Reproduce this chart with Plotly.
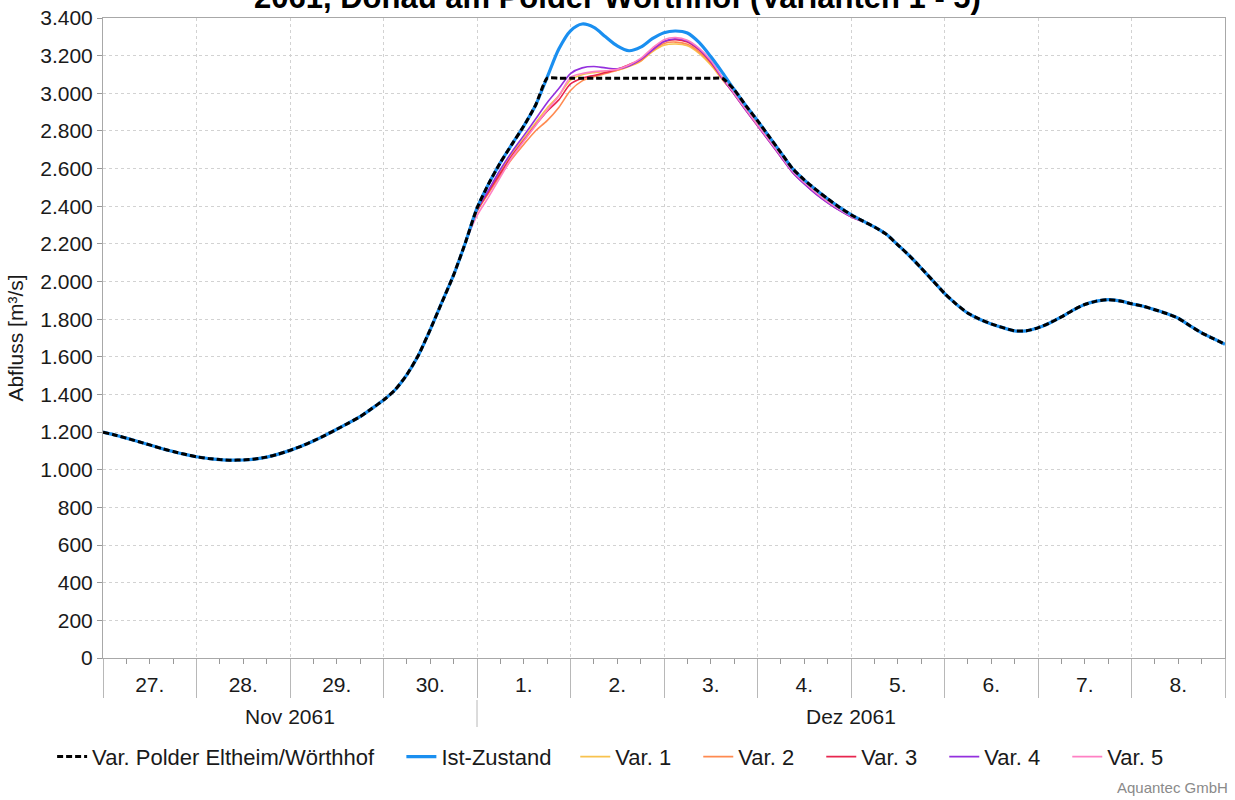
import datetime as dt
import plotly.graph_objects as go

# Zeitachse: Stunden ab 27.11.2061 00:00 (3-stündlich)
beginn = dt.datetime(2061, 11, 27)
stunden = list(range(0, 289, 3))

abfluss_ist = [
    1200, 1185, 1168, 1150, 1132, 1113, 1097, 1082, 1069, 1060, 1054, 1051, 1052,
    1057, 1067, 1083, 1103, 1126, 1153, 1183, 1215, 1248, 1282, 1325, 1370, 1425,
    1505, 1610, 1745, 1890, 2035, 2205, 2390, 2520, 2632, 2730, 2826, 2935, 3085,
    3235, 3332, 3368, 3350, 3300, 3252, 3226, 3245, 3290, 3322, 3331, 3320, 3270,
    3195, 3110, 3020, 2935, 2855, 2770, 2685, 2600, 2540, 2488, 2440, 2395, 2355,
    2322, 2290, 2252, 2195, 2137, 2072, 2005, 1937, 1880, 1832, 1800, 1775, 1755,
    1738, 1738, 1754, 1780, 1812, 1848, 1878, 1896, 1904, 1897, 1882, 1869, 1850,
    1830, 1805, 1765, 1727, 1697, 1667,
]

abfluss_polder = [
    1200, 1185, 1168, 1150, 1132, 1113, 1097, 1082, 1069, 1060, 1054, 1051, 1052,
    1057, 1067, 1083, 1103, 1126, 1153, 1183, 1215, 1248, 1282, 1325, 1370, 1425,
    1505, 1610, 1745, 1890, 2035, 2205, 2390, 2520, 2632, 2730, 2826, 2935, 3080,
    3080, 3080, 3080, 3080, 3080, 3080, 3080, 3080, 3080, 3080, 3080, 3080, 3080,
    3080, 3080, 3020, 2935, 2855, 2770, 2685, 2600, 2540, 2488, 2440, 2395, 2355,
    2322, 2290, 2252, 2195, 2137, 2072, 2005, 1937, 1880, 1832, 1800, 1775, 1755,
    1738, 1738, 1754, 1780, 1812, 1848, 1878, 1896, 1904, 1897, 1882, 1869, 1850,
    1830, 1805, 1765, 1727, 1697, 1667,
]

# Varianten 1-5 weichen nur um den Scheitel ab (93 h bis 195 h)
stunden_var = list(range(93, 196, 3))
var1 = [2205, 2378, 2482, 2585, 2680, 2762, 2842, 2922, 2988, 3070, 3098, 3110,
        3118, 3122, 3142, 3170, 3220, 3255, 3262, 3252, 3212, 3150, 3072, 2998,
        2915, 2835, 2752, 2670, 2588, 2528, 2474, 2426, 2384, 2347, 2320]
var2 = [2205, 2370, 2470, 2565, 2652, 2728, 2800, 2855, 2925, 3015, 3066, 3088,
        3105, 3122, 3145, 3172, 3225, 3265, 3272, 3260, 3220, 3160, 3075, 3000,
        2918, 2838, 2755, 2672, 2590, 2530, 2476, 2428, 2386, 2349, 2320]
var3 = [2205, 2375, 2478, 2575, 2670, 2750, 2830, 2905, 2965, 3050, 3080, 3095,
        3110, 3128, 3152, 3180, 3232, 3275, 3285, 3272, 3230, 3165, 3078, 2995,
        2910, 2828, 2745, 2662, 2580, 2520, 2466, 2420, 2380, 2344, 2318]
var4 = [2205, 2382, 2488, 2595, 2690, 2775, 2862, 2950, 3025, 3105, 3135, 3142,
        3135, 3130, 3145, 3180, 3230, 3275, 3290, 3278, 3235, 3170, 3080, 2996,
        2910, 2828, 2745, 2662, 2580, 2518, 2464, 2418, 2378, 2344, 2318]
var5 = [2205, 2350, 2450, 2555, 2660, 2745, 2828, 2910, 2985, 3085, 3105, 3115,
        3120, 3127, 3150, 3185, 3240, 3285, 3296, 3282, 3240, 3175, 3085, 3000,
        2915, 2832, 2750, 2668, 2586, 2526, 2472, 2424, 2383, 2347, 2320]

varianten = [
    ("Var. 1", var1, "#f8c24e"),
    ("Var. 2", var2, "#ff8a50"),
    ("Var. 3", var3, "#e8264f"),
    ("Var. 4", var4, "#9430de"),
    ("Var. 5", var5, "#ff80c4"),
]

monate = [("Nov 2061", dt.datetime(2061, 11, 29)), ("Dez 2061", dt.datetime(2061, 12, 5))]

titel = "2061, Donau am Polder Wörthhof (Varianten 1 - 5)"


def zeit(hs):
    return [beginn + dt.timedelta(hours=h) for h in hs]


SCHRIFT = "Liberation Sans, Arial, sans-serif"
GROESSE = 21
fig = go.Figure()

for i, (name, werte, farbe) in enumerate(varianten):
    fig.add_trace(go.Scatter(
        x=zeit(stunden_var), y=werte, name=name, mode="lines",
        line=dict(color=farbe, width=1.6, shape="spline", smoothing=0.8),
        legend="legend3", legendrank=3 + i, showlegend=True,
    ))

fig.add_trace(go.Scatter(
    x=zeit(stunden), y=abfluss_ist, name="Ist-Zustand", mode="lines",
    line=dict(color="#1a8ff0", width=3.2, shape="spline", smoothing=0.8),
    legend="legend2", legendrank=2, showlegend=True,
))
fig.add_trace(go.Scatter(
    x=zeit(stunden), y=abfluss_polder, name="Var. Polder Eltheim/Wörthhof", mode="lines",
    line=dict(color="#000000", width=3, dash="6px,3px", shape="spline", smoothing=0.5),
    legend="legend", legendrank=1, showlegend=True,
))

gitter = "#d2d2d2"
achse = "#a8a8a8"
legendenschrift = dict(size=22, color="#1a1a1a")

fig.update_layout(
    width=1235, height=800,
    margin=dict(l=103, r=10, t=18, b=142),
    paper_bgcolor="white", plot_bgcolor="white",
    separators=",.",
    showlegend=True,
    font=dict(family=SCHRIFT, size=GROESSE, color="#1a1a1a"),
    xaxis=dict(
        type="date", automargin=False,
        range=[beginn, beginn + dt.timedelta(days=12)],
        tick0=beginn, dtick=86400000,
        tickformat="%-d.", ticklabelmode="period",
        ticks="outside", ticklen=39, tickcolor="#b8b8b8", tickwidth=1,
        ticklabelstandoff=-31,
        tickfont=dict(size=GROESSE, color="#1a1a1a"),
        showgrid=True, gridcolor=gitter, griddash="3px,3px", gridwidth=1,
        showline=True, linecolor=achse, linewidth=1, mirror=True,
        minor=dict(dtick=6 * 3600 * 1000, ticks="outside", ticklen=5,
                   tickcolor="#999999", showgrid=False),
        zeroline=False,
    ),
    yaxis=dict(
        range=[0, 3400], dtick=200, tickformat=",d", automargin=False,
        ticks="outside", ticklen=5, tickcolor="#999999",
        tickfont=dict(size=GROESSE, color="#1a1a1a"),
        showgrid=True, gridcolor=gitter, griddash="3px,3px", gridwidth=1,
        showline=True, linecolor=achse, linewidth=1, mirror=True,
        zeroline=False,
        title=dict(text="Abfluss [m³/s]", font=dict(size=GROESSE, color="#1a1a1a"), standoff=10),
    ),
    legend=dict(orientation="h", xref="container", yref="container",
                x=0.0422, y=0.054, xanchor="left", yanchor="middle", visible=True,
                font=legendenschrift, bgcolor="rgba(0,0,0,0)"),
    legend2=dict(orientation="h", xref="container", yref="container",
                 x=0.3250, y=0.054, xanchor="left", yanchor="middle", visible=True,
                 font=legendenschrift, bgcolor="rgba(0,0,0,0)"),
    legend3=dict(orientation="h", xref="container", yref="container",
                 x=0.4658, y=0.054, xanchor="left", yanchor="middle", visible=True,
                 entrywidth=78, entrywidthmode="pixels",
                 font=legendenschrift, bgcolor="rgba(0,0,0,0)"),
)

# Titelzeile, oben am Rand angeschnitten
fig.add_annotation(x=(617.5 - 103) / 1122, y=(658 + 2.5) / 640, xref="paper", yref="paper",
                   text=titel, showarrow=False, xanchor="center", yanchor="middle",
                   font=dict(family=SCHRIFT, size=31, color="#000", weight="bold"))

# Monatsbeschriftung unter den Tagen
for text, mitte in monate:
    fig.add_annotation(x=mitte, y=(658 - 716) / 640, xref="x", yref="paper",
                       text=text, showarrow=False, yanchor="middle",
                       font=dict(size=GROESSE, color="#1a1a1a"))

# Trennstrich zwischen den Monaten
fig.add_shape(type="line", xref="x", yref="paper",
              x0=dt.datetime(2061, 12, 1), x1=dt.datetime(2061, 12, 1),
              y0=(658 - 700) / 640, y1=(658 - 727) / 640,
              line=dict(color="#b8b8b8", width=1))

fig.add_annotation(x=1.0045, y=(658 - 787) / 640, xref="paper", yref="paper",
                   text="Aquantec GmbH", showarrow=False,
                   xanchor="right", yanchor="middle",
                   font=dict(size=15, color="#8a8a8a"))

fig.write_html("out.html")
